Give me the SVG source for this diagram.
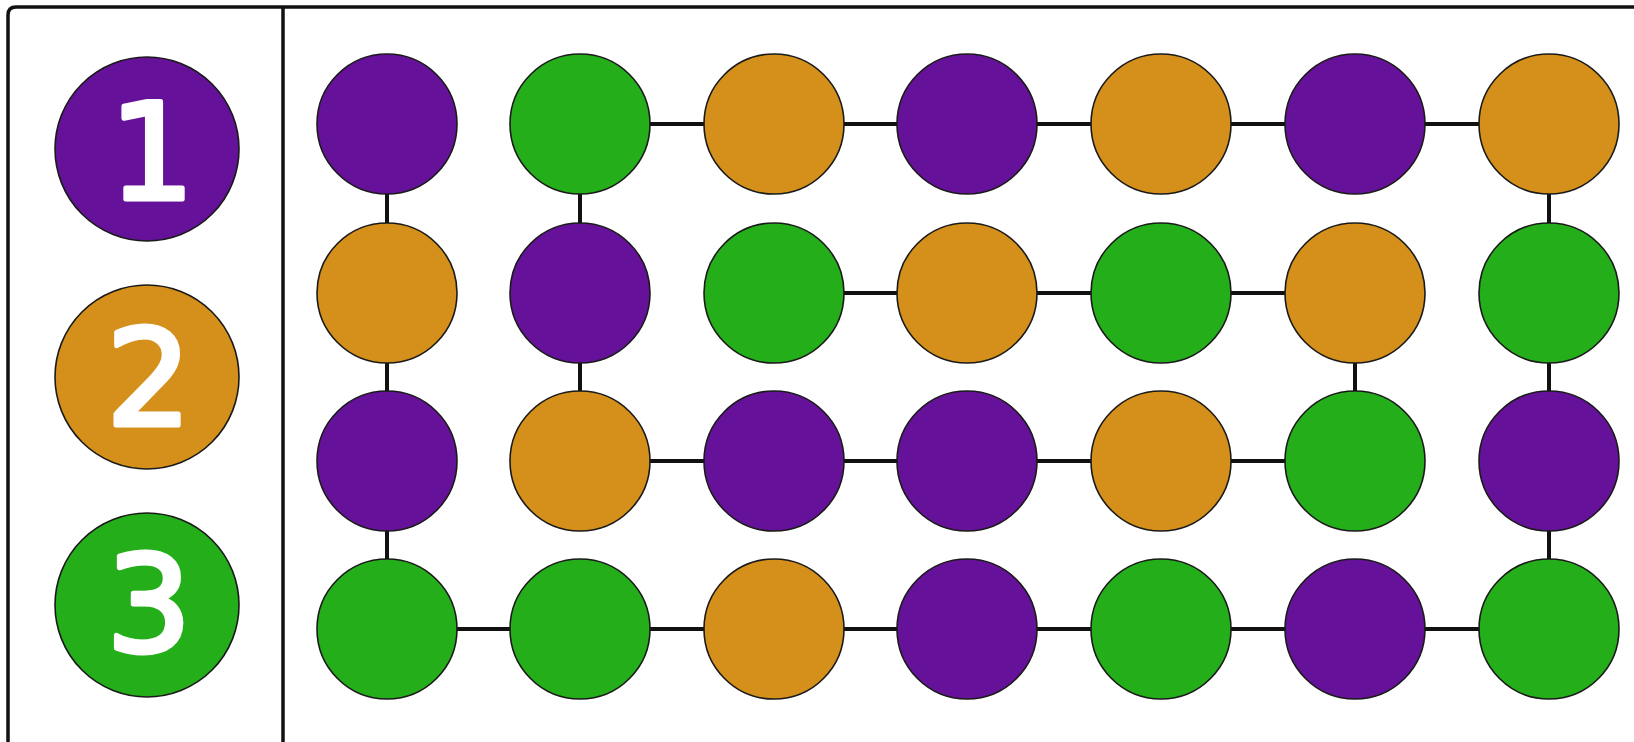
<svg xmlns="http://www.w3.org/2000/svg" width="1634" height="742" viewBox="0 0 1634 742">
<style>
.p{fill:#661199}
.o{fill:#D4901A}
.g{fill:#23AE1A}
circle{stroke:#1a1a1a;stroke-width:1.6}
.frame{fill:none;stroke:#111;stroke-width:3.5}
.con line{stroke:#111;stroke-width:4}
.num{fill:#fff;stroke:#fff;stroke-width:5;stroke-linejoin:round;font-family:"DejaVu Sans",sans-serif;font-size:134px;text-anchor:middle}
</style>
<rect width="1634" height="742" fill="#fff"/>
<path class="frame" d="M8,742 V15 Q8,7 16,7 H1634"/>
<line class="frame" x1="283" y1="7" x2="283" y2="742"/>
<g id="legend-1"><circle class="p" cx="147" cy="149" r="92"/><text class="num" x="152" y="199">1</text></g>
<g id="legend-2"><circle class="o" cx="147" cy="377" r="92"/><text class="num" x="149" y="425">2</text></g>
<g id="legend-3"><circle class="g" cx="147" cy="605" r="92"/><text class="num" x="149" y="651">3</text></g>
<g class="con" id="connectors">
<line x1="580" y1="124" x2="1549" y2="124"/>
<line x1="387" y1="124" x2="387" y2="293"/>
<line x1="580" y1="124" x2="580" y2="293"/>
<line x1="1549" y1="124" x2="1549" y2="293"/>
<line x1="774" y1="293" x2="1355" y2="293"/>
<line x1="387" y1="293" x2="387" y2="629"/>
<line x1="580" y1="293" x2="580" y2="461"/>
<line x1="1355" y1="293" x2="1355" y2="461"/>
<line x1="1549" y1="293" x2="1549" y2="629"/>
<line x1="580" y1="461" x2="1355" y2="461"/>
<line x1="387" y1="629" x2="1549" y2="629"/>
</g>
<g id="r0c0"><circle class="p" cx="387" cy="124" r="70"/></g>
<g id="r0c1"><circle class="g" cx="580" cy="124" r="70"/></g>
<g id="r0c2"><circle class="o" cx="774" cy="124" r="70"/></g>
<g id="r0c3"><circle class="p" cx="967" cy="124" r="70"/></g>
<g id="r0c4"><circle class="o" cx="1161" cy="124" r="70"/></g>
<g id="r0c5"><circle class="p" cx="1355" cy="124" r="70"/></g>
<g id="r0c6"><circle class="o" cx="1549" cy="124" r="70"/></g>
<g id="r1c0"><circle class="o" cx="387" cy="293" r="70"/></g>
<g id="r1c1"><circle class="p" cx="580" cy="293" r="70"/></g>
<g id="r1c2"><circle class="g" cx="774" cy="293" r="70"/></g>
<g id="r1c3"><circle class="o" cx="967" cy="293" r="70"/></g>
<g id="r1c4"><circle class="g" cx="1161" cy="293" r="70"/></g>
<g id="r1c5"><circle class="o" cx="1355" cy="293" r="70"/></g>
<g id="r1c6"><circle class="g" cx="1549" cy="293" r="70"/></g>
<g id="r2c0"><circle class="p" cx="387" cy="461" r="70"/></g>
<g id="r2c1"><circle class="o" cx="580" cy="461" r="70"/></g>
<g id="r2c2"><circle class="p" cx="774" cy="461" r="70"/></g>
<g id="r2c3"><circle class="p" cx="967" cy="461" r="70"/></g>
<g id="r2c4"><circle class="o" cx="1161" cy="461" r="70"/></g>
<g id="r2c5"><circle class="g" cx="1355" cy="461" r="70"/></g>
<g id="r2c6"><circle class="p" cx="1549" cy="461" r="70"/></g>
<g id="r3c0"><circle class="g" cx="387" cy="629" r="70"/></g>
<g id="r3c1"><circle class="g" cx="580" cy="629" r="70"/></g>
<g id="r3c2"><circle class="o" cx="774" cy="629" r="70"/></g>
<g id="r3c3"><circle class="p" cx="967" cy="629" r="70"/></g>
<g id="r3c4"><circle class="g" cx="1161" cy="629" r="70"/></g>
<g id="r3c5"><circle class="p" cx="1355" cy="629" r="70"/></g>
<g id="r3c6"><circle class="g" cx="1549" cy="629" r="70"/></g>
</svg>
